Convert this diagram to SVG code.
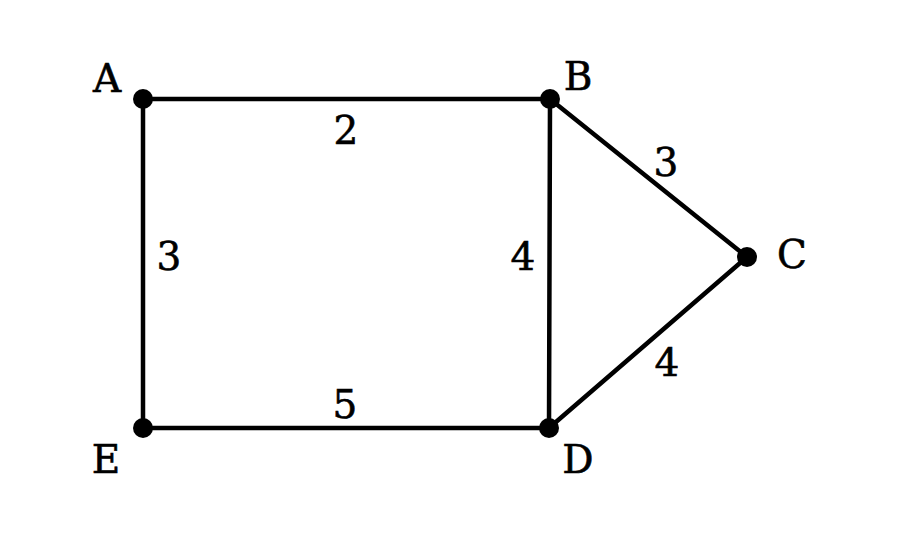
<svg xmlns="http://www.w3.org/2000/svg" width="900" height="546" viewBox="0 0 900 546">
<style>
.edge{stroke:#000;stroke-width:4.5;fill:none;stroke-linecap:round}
.node{fill:#000}
.lbl{font-family:"DejaVu Serif","Liberation Serif",serif;font-size:39px;fill:#000;stroke:#000;stroke-width:0.6;text-anchor:middle}
.w{font-family:"DejaVu Serif","Liberation Serif",serif;font-size:39px;fill:#000;stroke:#000;stroke-width:0.6;text-anchor:middle}
</style>
<rect width="900" height="546" fill="#fff"/>
<g id="edges">
<line class="edge" x1="143" y1="99" x2="550" y2="99"/>
<line class="edge" x1="143" y1="99" x2="143" y2="428"/>
<line class="edge" x1="550" y1="99" x2="549" y2="428"/>
<line class="edge" x1="550" y1="99" x2="747" y2="257"/>
<line class="edge" x1="747" y1="257" x2="549" y2="428"/>
<line class="edge" x1="143" y1="428" x2="549" y2="428"/>
<text class="w" x="346" y="144">2</text>
<text class="w" x="169" y="270">3</text>
<text class="w" x="523" y="270">4</text>
<text class="w" x="666" y="176">3</text>
<text class="w" x="667" y="376">4</text>
<text class="w" x="345" y="418">5</text>
</g>
<g id="A"><circle class="node" cx="143" cy="99" r="10"/><text class="lbl" x="107" y="92">A</text></g>
<g id="B"><circle class="node" cx="550" cy="99" r="10"/><text class="lbl" x="578" y="90">B</text></g>
<g id="C"><circle class="node" cx="747" cy="257" r="10"/><text class="lbl" x="792" y="268">C</text></g>
<g id="D"><circle class="node" cx="549" cy="428" r="10"/><text class="lbl" x="578" y="473">D</text></g>
<g id="E"><circle class="node" cx="143" cy="428" r="10"/><text class="lbl" x="106" y="473">E</text></g>
</svg>
